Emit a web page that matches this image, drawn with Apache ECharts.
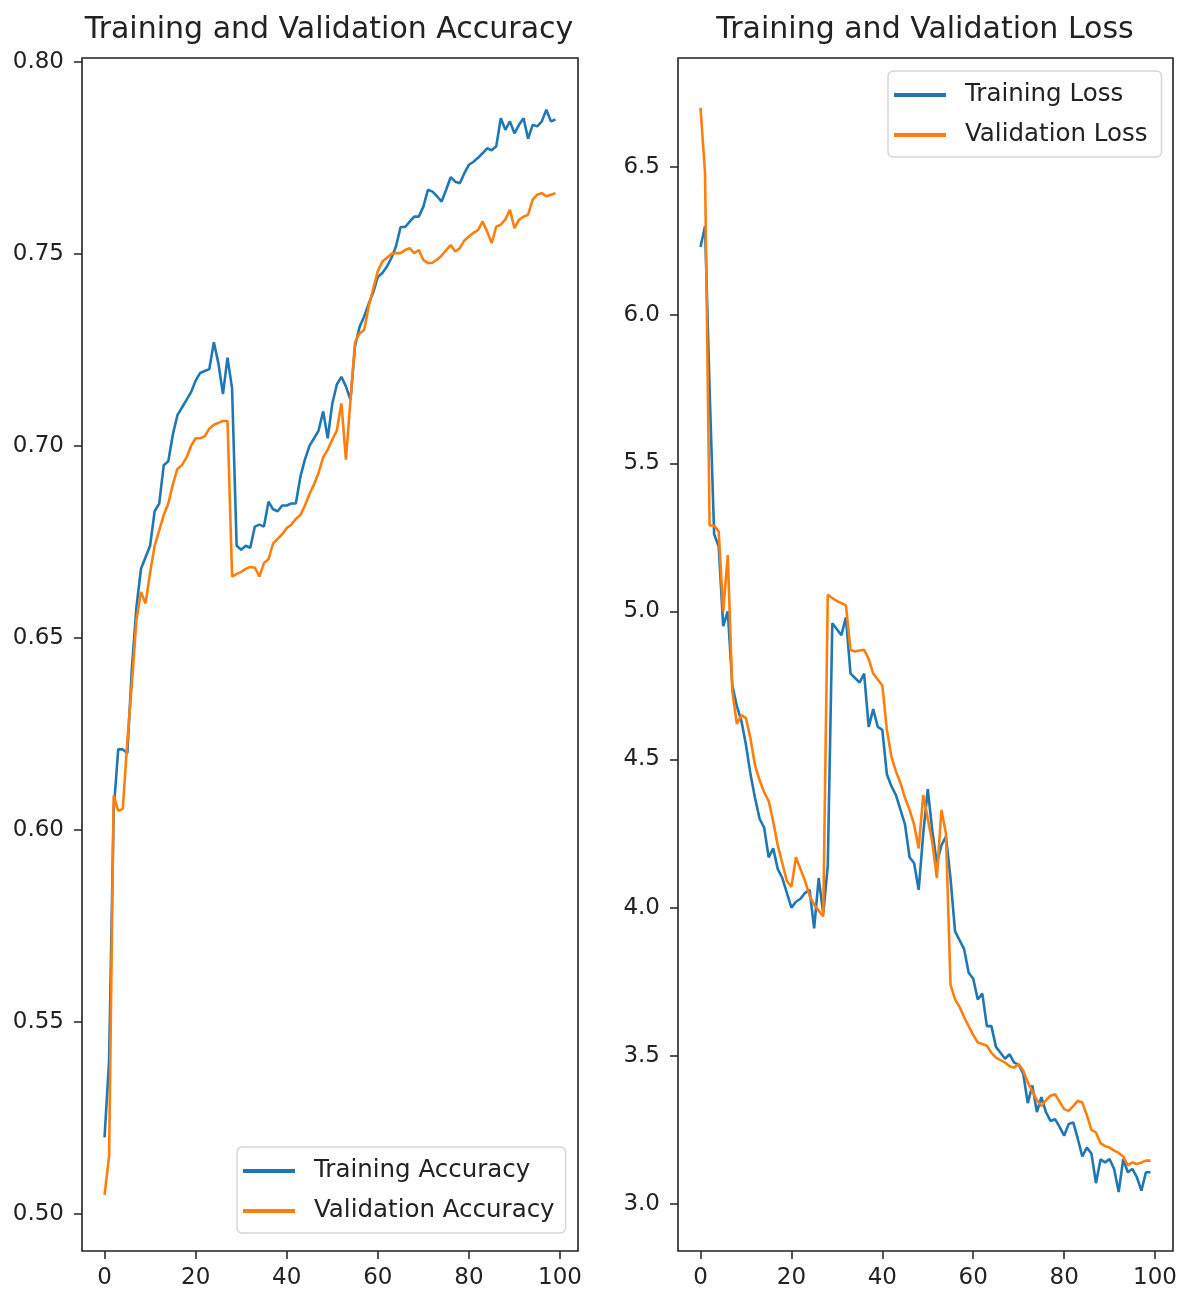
<!DOCTYPE html>
<html>
<head>
<meta charset="utf-8">
<script src="https://cdn.jsdelivr.net/npm/echarts@6/dist/echarts.min.js"></script>
<style>
  html, body { margin: 0; padding: 0; background: #fff; }
  #main { width: 1181px; height: 1300px; }
</style>
</head>
<body>
<div id="main"></div>
<script>
// values, one per epoch (0..99)
var accTrain = [0.520,0.540,0.605,0.621,0.621,0.620,0.642,0.658,0.668,0.671,
  0.674,0.683,0.685,0.695,0.696,0.703,0.708,0.710,0.712,0.714,
  0.717,0.719,0.7195,0.720,0.727,0.7215,0.7135,0.723,0.715,0.674,
  0.673,0.674,0.6735,0.679,0.6795,0.679,0.6855,0.6835,0.683,0.6845,
  0.6845,0.685,0.685,0.692,0.6965,0.700,0.702,0.704,0.709,0.702,
  0.711,0.716,0.718,0.7155,0.712,0.726,0.731,0.7337,0.737,0.740,
  0.744,0.745,0.7467,0.749,0.752,0.757,0.757,0.7584,0.7597,0.7597,
  0.7623,0.7667,0.7662,0.765,0.7636,0.7667,0.770,0.7688,0.7684,0.771,
  0.7732,0.774,0.775,0.7762,0.7775,0.777,0.778,0.7853,0.7823,0.7845,
  0.7814,0.7836,0.7853,0.780,0.7836,0.7832,0.7845,0.7875,0.7845,0.785];
var accVal = [0.505,0.515,0.609,0.605,0.6055,0.623,0.638,0.6547,0.662,0.659,
  0.667,0.674,0.678,0.682,0.685,0.690,0.694,0.695,0.697,0.700,
  0.702,0.702,0.7025,0.7045,0.7055,0.706,0.7065,0.7065,0.666,0.6667,
  0.6672,0.668,0.6685,0.6683,0.666,0.6695,0.6705,0.6746,0.6758,0.677,
  0.6786,0.6795,0.681,0.682,0.6845,0.6875,0.690,0.693,0.697,0.699,
  0.7016,0.704,0.7111,0.6964,0.712,0.727,0.7293,0.7302,0.7363,0.741,
  0.7455,0.748,0.749,0.750,0.7502,0.7502,0.751,0.7515,0.7502,0.751,
  0.7484,0.7476,0.7477,0.7485,0.7495,0.751,0.7523,0.7506,0.7515,0.7535,
  0.7545,0.7555,0.7562,0.7584,0.7558,0.7528,0.7571,0.7576,0.759,0.7615,
  0.7567,0.7589,0.7597,0.7602,0.7641,0.7654,0.7658,0.765,0.7654,0.7658];
var lossTrain = [6.23,6.30,5.75,5.26,5.22,4.95,5.00,4.75,4.68,4.63,
  4.55,4.45,4.37,4.30,4.27,4.17,4.20,4.13,4.10,4.05,
  4.00,4.02,4.03,4.05,4.06,3.93,4.10,3.98,4.14,4.96,
  4.94,4.92,4.98,4.79,4.775,4.76,4.79,4.61,4.67,4.61,
  4.60,4.45,4.41,4.38,4.33,4.28,4.17,4.15,4.06,4.25,
  4.40,4.26,4.15,4.21,4.24,4.10,3.92,3.89,3.86,3.78,
  3.76,3.69,3.71,3.60,3.60,3.53,3.51,3.49,3.505,3.477,
  3.47,3.44,3.34,3.40,3.31,3.36,3.31,3.28,3.286,3.26,
  3.23,3.27,3.275,3.22,3.16,3.19,3.17,3.07,3.15,3.14,
  3.151,3.118,3.04,3.151,3.107,3.118,3.09,3.045,3.107,3.107];
var lossVal = [6.70,6.48,5.29,5.29,5.27,5.00,5.19,4.73,4.62,4.65,
  4.64,4.57,4.48,4.43,4.39,4.36,4.29,4.21,4.15,4.09,
  4.07,4.17,4.13,4.09,4.04,4.01,3.99,3.97,5.056,5.045,
  5.035,5.028,5.02,4.87,4.865,4.868,4.87,4.84,4.79,4.77,
  4.75,4.60,4.51,4.46,4.42,4.37,4.33,4.28,4.20,4.38,
  4.30,4.22,4.10,4.33,4.25,3.74,3.69,3.665,3.63,3.60,
  3.57,3.545,3.54,3.534,3.51,3.494,3.485,3.477,3.465,3.46,
  3.472,3.45,3.41,3.38,3.35,3.331,3.35,3.365,3.37,3.345,
  3.32,3.314,3.33,3.348,3.342,3.30,3.25,3.241,3.205,3.195,
  3.19,3.18,3.172,3.16,3.13,3.14,3.135,3.14,3.146,3.146];
// tick labels
var xTicks = [0, 20, 40, 60, 80, 100];
var accTicks = [0.50, 0.55, 0.60, 0.65, 0.70, 0.75, 0.80];
var lossTicks = [3.0, 3.5, 4.0, 4.5, 5.0, 5.5, 6.0, 6.5];

var BLUE = '#1f77b4', ORANGE = '#ff7f0e';
var FONT = 'DejaVu Sans';

function pairs(arr) {
  return arr.map(function(v, i) { return [i, v]; });
}

function xAxisOf(gridIndex) {
  return {
    type: 'value', gridIndex: gridIndex, min: -4.95, max: 103.95,
    splitLine: { show: false },
    axisLine: { show: false, onZero: false },
    axisTick: { show: true, length: 8, lineStyle: { color: '#222', width: 1.5 }, customValues: xTicks },
    axisLabel: { color: '#222', fontSize: 23, fontFamily: FONT, margin: 16, customValues: xTicks }
  };
}

function yAxisOf(gridIndex, min, max, ticks, digits) {
  return {
    type: 'value', gridIndex: gridIndex, min: min, max: max,
    splitLine: { show: false },
    axisLine: { show: false, onZero: false },
    axisTick: { show: true, length: 8, lineStyle: { color: '#222', width: 1.5 }, customValues: ticks },
    axisLabel: {
      color: '#222', fontSize: 23, fontFamily: FONT, margin: 18, customValues: ticks,
      formatter: function(v) { return v.toFixed(digits); }
    }
  };
}

function lineOf(name, data, color, idx) {
  return {
    name: name, type: 'line', xAxisIndex: idx, yAxisIndex: idx,
    data: pairs(data), showSymbol: false, symbol: 'none', animation: false,
    lineStyle: { color: color, width: 2.6 }, itemStyle: { color: color }
  };
}

function legendOf(names, left, top, padRight) {
  return {
    data: names, orient: 'vertical', left: left, top: top,
    icon: 'rect', itemWidth: 52, itemHeight: 4, itemGap: 12,
    padding: [10, padRight, 8, 6],
    borderColor: '#d6d6d6', borderWidth: 1.5, borderRadius: 5, backgroundColor: '#fff',
    textStyle: { color: '#222', fontSize: 24.5, fontFamily: FONT, lineHeight: 28, padding: [0, 0, 0, 14] }
  };
}

var chart = echarts.init(document.getElementById('main'));
chart.setOption({
  backgroundColor: '#fff',
  animation: false,
  title: [
    { text: 'Training and Validation Accuracy', left: 324, top: 10, textAlign: 'center',
      textStyle: { color: '#222', fontSize: 30, fontWeight: 'normal', fontFamily: FONT } },
    { text: 'Training and Validation Loss', left: 920, top: 10, textAlign: 'center',
      textStyle: { color: '#222', fontSize: 30, fontWeight: 'normal', fontFamily: FONT } }
  ],
  grid: [
    { left: 82, top: 58, width: 496, height: 1193, show: true, borderColor: '#222', borderWidth: 1.6 },
    { left: 678, top: 58, width: 495, height: 1193, show: true, borderColor: '#222', borderWidth: 1.6 }
  ],
  xAxis: [xAxisOf(0), xAxisOf(1)],
  yAxis: [
    yAxisOf(0, 0.4904, 0.801, accTicks, 2),
    yAxisOf(1, 2.841, 6.868, lossTicks, 1)
  ],
  legend: [
    legendOf(['Training Accuracy', 'Validation Accuracy'], 237, 1147, 11),
    legendOf(['Training Loss', 'Validation Loss'], 888, 71, 14)
  ],
  series: [
    lineOf('Training Accuracy', accTrain, BLUE, 0),
    lineOf('Validation Accuracy', accVal, ORANGE, 0),
    lineOf('Training Loss', lossTrain, BLUE, 1),
    lineOf('Validation Loss', lossVal, ORANGE, 1)
  ]
});
</script>
</body>
</html>
